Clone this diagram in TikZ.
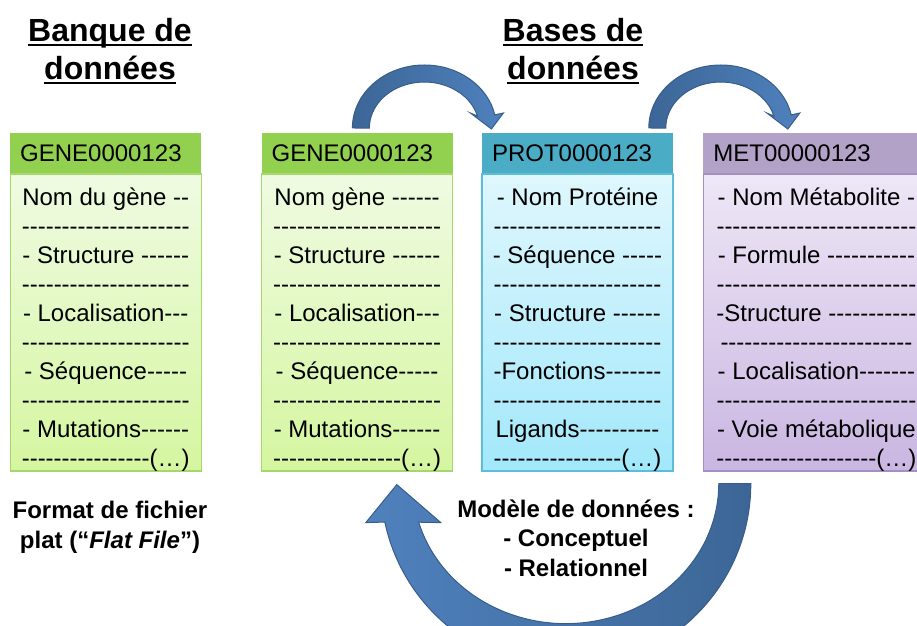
\documentclass[tikz,border=0pt]{standalone}
\usepackage{fontspec}
\setmainfont{Liberation Sans}[Ligatures=TeXOff]
\usetikzlibrary{positioning, calc}
\definecolor{geneGreen}{HTML}{92D050}
\definecolor{geneTop}{HTML}{EFFBE2}
\definecolor{geneBottom}{HTML}{D5F6A0}
\definecolor{geneLine}{HTML}{A6D76A}
\definecolor{protCyan}{HTML}{4BACC6}
\definecolor{protTop}{HTML}{DFF7FD}
\definecolor{protBottom}{HTML}{A2E8FB}
\definecolor{protLine}{HTML}{5BBDD6}
\definecolor{metPurple}{HTML}{B2A2C7}
\definecolor{metTop}{HTML}{EEE7F6}
\definecolor{metBottom}{HTML}{CAB6E2}
\definecolor{metLine}{HTML}{A48FC2}
\definecolor{arrowBlue}{HTML}{4F81BD}
\definecolor{arrowDark}{HTML}{3C6696}
\definecolor{arrowLine}{HTML}{385D8A}
\newcommand\titleul[1]{\setbox0=\hbox{#1}\rlap{\rule[-4.5pt]{\wd0}{2.6pt}}\box0}

\begin{document}
\begin{tikzpicture}[x=1pt, y=1pt,
    idbox/.style={anchor=north west, minimum height=40, inner xsep=10, inner ysep=0, text width=#1, align=left, font=\fontsize{24}{29}\selectfont},
    fieldbox/.style={minimum width=#1, minimum height=297, inner sep=0, line width=1.2},
    fieldline/.style={anchor=base, inner sep=0, font=\fontsize{24}{29}\selectfont},
    headline/.style={align=center, font=\bfseries\fontsize{32}{38}\selectfont},
    remark/.style={align=center, font=\bfseries\fontsize{24}{29.5}\selectfont},
    bendarrow/.style={draw=arrowLine, line width=1}]
    \useasboundingbox (0,0) rectangle (917,625);
    \clip (0,0) rectangle (917,625);

    % Titles
    \node[headline, anchor=base] (bank) at (110,545) {\titleul{Banque de}\\\titleul{données}};
    \node[headline, anchor=base] (bases) at (573,545) {\titleul{Bases de}\\\titleul{données}};

    % Record headers
    \node[idbox=171, fill=geneGreen] (gene1) at (10,492) {GENE0000123};
    \node[idbox=171, fill=geneGreen, right=60pt of gene1] (gene2) {GENE0000123};
    \node[idbox=171, fill=protCyan, right=29pt of gene2] (prot) {PROT0000123};
    \node[idbox=206, fill=metPurple, right=30pt of prot] (met) {MET00000123};

    % Record bodies
    \node[fieldbox=191, below=0pt of gene1, draw=geneLine, top color=geneTop, bottom color=geneBottom] (gene1b) {};
    \node[fieldbox=191, below=0pt of gene2, draw=geneLine, top color=geneTop, bottom color=geneBottom] (gene2b) {};
    \node[fieldbox=191, below=0pt of prot, draw=protLine, top color=protTop, bottom color=protBottom] (protb) {};
    \node[fieldbox=226, below=0pt of met, draw=metLine, top color=metTop, bottom color=metBottom] (metb) {};

    % Fields
    \foreach \t [count=\i] in {Nom du gène --,---------------------,- Structure ------,---------------------,- Localisation---,---------------------,- Séquence-----,---------------------,- Mutations------,----------------(…)}
        \node[fieldline] (gene1-\i) at ($(gene1b.north)+(0,{-32-29*(\i-1)})$) {\t};
    \foreach \t [count=\i] in {Nom gène ------,---------------------,- Structure ------,---------------------,- Localisation---,---------------------,- Séquence-----,---------------------,- Mutations------,----------------(…)}
        \node[fieldline] (gene2-\i) at ($(gene2b.north)+(0,{-32-29*(\i-1)})$) {\t};
    \foreach \t [count=\i] in {- Nom Protéine,---------------------,- Séquence -----,---------------------,- Structure ------,---------------------,-Fonctions-------,---------------------,Ligands----------,----------------(…)}
        \node[fieldline] (prot-\i) at ($(protb.north)+(0,{-32-29*(\i-1)})$) {\t};
    \foreach \t [count=\i] in {- Nom Métabolite -,-------------------------,- Formule -----------,-------------------------,-Structure -----------,------------------------,- Localisation-------,-------------------------,- Voie métabolique,--------------------(…)}
        \node[fieldline] (met-\i) at ($(metb.north)+(0,{-32-29*(\i-1)})$) {\t};

    % Bent arrows
    \begin{scope}[shift={($(gene2.north west)+(91,5)$)}]
        \shadedraw[bendarrow, left color=arrowDark, right color=arrowBlue] (0,0) arc[start angle=180, end angle=12, x radius=72, y radius=63] -- (151,15) -- (139,-1) -- (118,15) -- (125.1,11.9) arc[start angle=15, end angle=180, x radius=55, y radius=46] -- cycle;
    \end{scope}
    \begin{scope}[shift={($(prot.north west)+(167,5)$)}]
        \shadedraw[bendarrow, left color=arrowDark, right color=arrowBlue] (0,0) arc[start angle=180, end angle=12, x radius=72, y radius=63] -- (151,15) -- (139,-1) -- (118,15) -- (125.1,11.9) arc[start angle=15, end angle=180, x radius=55, y radius=46] -- cycle;
    \end{scope}
    \begin{scope}[shift={($(metb.south west)+(-137,-12)$)}]
        \shadedraw[bendarrow, left color=arrowBlue, right color=arrowDark] (185,0) arc[start angle=0, end angle=-168, radius=185] -- (-200,-39) -- (-169,-1) -- (-125,-39) -- (-147.1,-38.6) arc[start angle=-164, end angle=0, x radius=153, y radius=140] -- cycle;
    \end{scope}

    % Notes
    \node[remark, anchor=base] (flatfile) at (110,77) {Format de fichier\\plat (“\textit{Flat File}”)};
    \node[remark, anchor=base] (model) at (576,49) {Modèle de données :\\- Conceptuel\\- Relationnel};
\end{tikzpicture}
\end{document}
